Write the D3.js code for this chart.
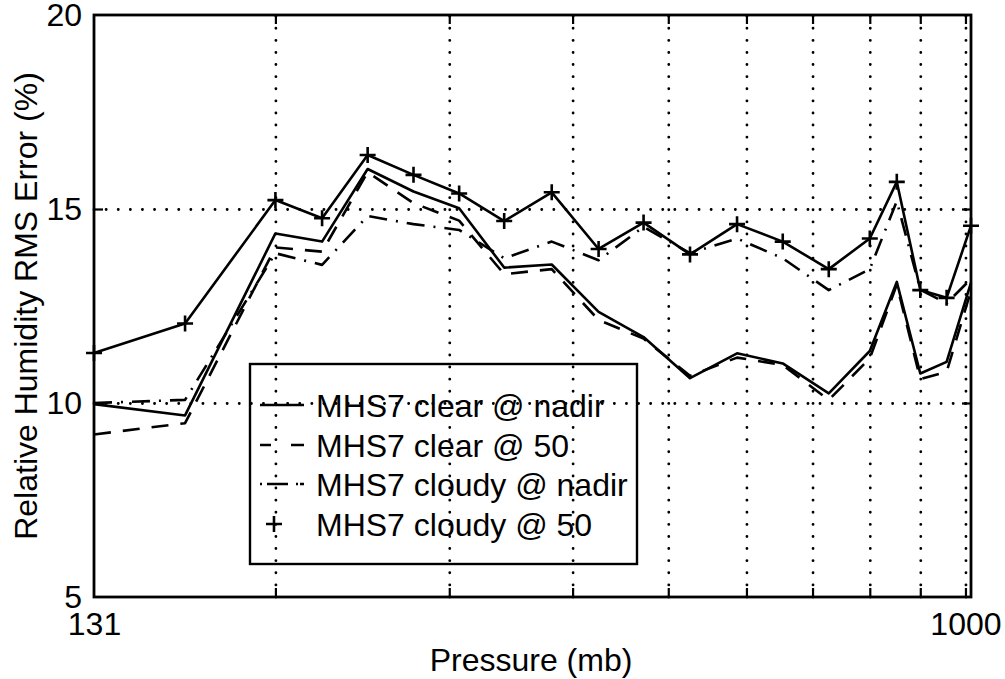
<!DOCTYPE html>
<html>
<head>
<meta charset="utf-8">
<script src="https://cdn.jsdelivr.net/npm/d3@7"></script>
<style>
  html, body { margin: 0; padding: 0; background: #fff; }
  svg { display: block; }
  text { font-family: "Liberation Sans", Arial, Helvetica, sans-serif; fill: #000; }
</style>
</head>
<body>
<svg id="chart" width="1005" height="679"></svg>
<script>
// ---- data ----
const pressure = [131, 162, 200, 223, 248, 276, 307, 341, 381, 425, 472, 526, 587, 653, 727, 800, 852, 900, 957, 1013];
const clearNadir  = [9.97, 9.68, 14.37, 14.16, 16.03, 15.45, 15.02, 13.49, 13.57, 12.35, 11.70, 10.64, 11.28, 11.02, 10.25, 11.34, 13.12, 10.76, 11.06, 13.10];
const clear50     = [9.19, 9.48, 14.01, 13.90, 15.95, 15.15, 14.70, 13.32, 13.45, 12.14, 11.66, 10.70, 11.17, 10.98, 10.08, 11.15, 13.05, 10.62, 10.80, 12.90];
const cloudyNadir = [10.00, 10.08, 13.86, 13.56, 14.82, 14.61, 14.46, 13.73, 14.16, 13.68, 14.54, 13.86, 14.24, 13.73, 12.91, 13.45, 15.20, 12.92, 12.57, 13.20];
const cloudy50    = [11.29, 12.05, 15.23, 14.76, 16.39, 15.88, 15.40, 14.69, 15.43, 13.97, 14.65, 13.83, 14.61, 14.16, 13.45, 14.24, 15.70, 12.91, 12.71, 14.57];

const xDomain = [131, 1013];
const yDomain = [5, 20];
const xLabelTicks = [131, 1000];
const xGridTicks = [200, 300, 400, 500, 600, 700, 800, 900, 1000];
const yLabelTicks = [5, 10, 15, 20];
const yGridTicks = [10, 15];

const legendLabels = ["MHS7 clear @ nadir", "MHS7 clear @ 50", "MHS7 cloudy @ nadir", "MHS7 cloudy @ 50"];
const xTitle = "Pressure (mb)";
const yTitle = "Relative Humidity RMS Error (%)";

// ---- layout ----
const L = 94, R = 971, T = 15, B = 597;
const W = R - L, H = B - T;
const FS = 32;
const LW = 2.6;

const svg = d3.select("#chart");
const g = svg.append("g").attr("transform", `translate(${L},${T})`);

const x = d3.scaleLog().domain(xDomain).range([0, W]);
const y = d3.scaleLinear().domain(yDomain).range([H, 0]);

// ---- dotted grid ----
const gridStyle = sel => {
  sel.select(".domain").remove();
  sel.selectAll(".tick line")
    .attr("stroke", "#000").attr("stroke-width", 2.8)
    .attr("stroke-dasharray", "0.1,12").attr("stroke-linecap", "round");
};
g.append("g").attr("transform", `translate(0,${H})`)
  .call(d3.axisBottom(x).tickValues(xGridTicks).tickSize(-H).tickFormat(""))
  .call(gridStyle);
g.append("g")
  .call(d3.axisLeft(y).tickValues(yGridTicks).tickSize(-W).tickFormat(""))
  .call(gridStyle);

// ---- inward tick marks ----
const tickStyle = sel => {
  sel.select(".domain").remove();
  sel.selectAll(".tick line").attr("stroke", "#000").attr("stroke-width", 2.2);
};
g.append("g").attr("transform", `translate(0,${H})`)
  .call(d3.axisBottom(x).tickValues(xGridTicks).tickSizeInner(-9).tickSizeOuter(0).tickFormat(""))
  .call(tickStyle);
g.append("g")
  .call(d3.axisTop(x).tickValues(xGridTicks).tickSizeInner(-9).tickSizeOuter(0).tickFormat(""))
  .call(tickStyle);
g.append("g")
  .call(d3.axisLeft(y).tickValues(yGridTicks).tickSizeInner(-9).tickSizeOuter(0).tickFormat(""))
  .call(tickStyle);
g.append("g").attr("transform", `translate(${W},0)`)
  .call(d3.axisRight(y).tickValues(yGridTicks).tickSizeInner(-9).tickSizeOuter(0).tickFormat(""))
  .call(tickStyle);

// ---- tick labels ----
const labStyle = sel => {
  sel.select(".domain").remove();
  sel.selectAll(".tick line").remove();
  sel.selectAll("text").attr("font-size", FS).style("font-family", '"Liberation Sans", Arial, sans-serif').attr("fill", "#000");
};
g.append("g").attr("transform", `translate(0,${H})`)
  .call(d3.axisBottom(x).tickValues(xLabelTicks).tickSize(0).tickPadding(15).tickFormat(d3.format("d")))
  .call(labStyle);
g.append("g")
  .call(d3.axisLeft(y).tickValues(yLabelTicks).tickSize(0).tickPadding(12).tickFormat(d3.format("d")))
  .call(labStyle);

// ---- data lines ----
const line = d3.line().x((d, i) => x(pressure[i])).y(d => y(d));
const series = [
  { v: clearNadir, dash: null },
  { v: clear50, dash: "17,12" },
  { v: cloudyNadir, dash: "18,9,2,9" },
  { v: cloudy50, dash: null }
];
series.forEach(s => {
  g.append("path").datum(s.v)
    .attr("d", line)
    .attr("fill", "none").attr("stroke", "#000").attr("stroke-width", LW)
    .attr("stroke-linejoin", "round")
    .attr("stroke-dasharray", s.dash);
});
// + markers on cloudy @ 50
const ms = 8;
g.append("g").selectAll("path").data(cloudy50).join("path")
  .attr("d", (d, i) => {
    const cx = x(pressure[i]), cy = y(d);
    return `M${cx - ms},${cy}H${cx + ms}M${cx},${cy - ms}V${cy + ms}`;
  })
  .attr("stroke", "#000").attr("stroke-width", LW).attr("fill", "none");

// ---- frame ----
g.append("rect").attr("x", 0).attr("y", 0).attr("width", W).attr("height", H)
  .attr("fill", "none").attr("stroke", "#000").attr("stroke-width", 2.8);

// ---- axis titles ----
svg.append("text").attr("x", 531).attr("y", 671).attr("text-anchor", "middle")
  .attr("font-size", FS).text(xTitle);
svg.append("text").attr("transform", "translate(37,306) rotate(-90)").attr("text-anchor", "middle")
  .attr("font-size", FS).text(yTitle);

// ---- legend ----
const lg = svg.append("g");
lg.append("rect").attr("x", 250).attr("y", 364).attr("width", 387).attr("height", 200)
  .attr("fill", "none").attr("stroke", "#000").attr("stroke-width", 2.4);
const rowY = [405, 445, 484, 524];
legendLabels.forEach((lab, i) => {
  const yy = rowY[i];
  if (i === 3) {
    lg.append("path").attr("d", `M${274 - ms},${yy}H${274 + ms}M274,${yy - ms}V${yy + ms}`)
      .attr("stroke", "#000").attr("stroke-width", LW);
  } else {
    let dash = null;
    if (i === 1) dash = "11,20,14";
    if (i === 2) dash = "2,5,21,8,2";
    lg.append("line").attr("x1", 260).attr("x2", 304).attr("y1", yy).attr("y2", yy)
      .attr("stroke", "#000").attr("stroke-width", LW).attr("stroke-dasharray", dash);
  }
  lg.append("text").attr("x", 316).attr("y", yy).attr("dy", "0.36em")
    .attr("font-size", FS).text(lab);
});
</script>
</body>
</html>
